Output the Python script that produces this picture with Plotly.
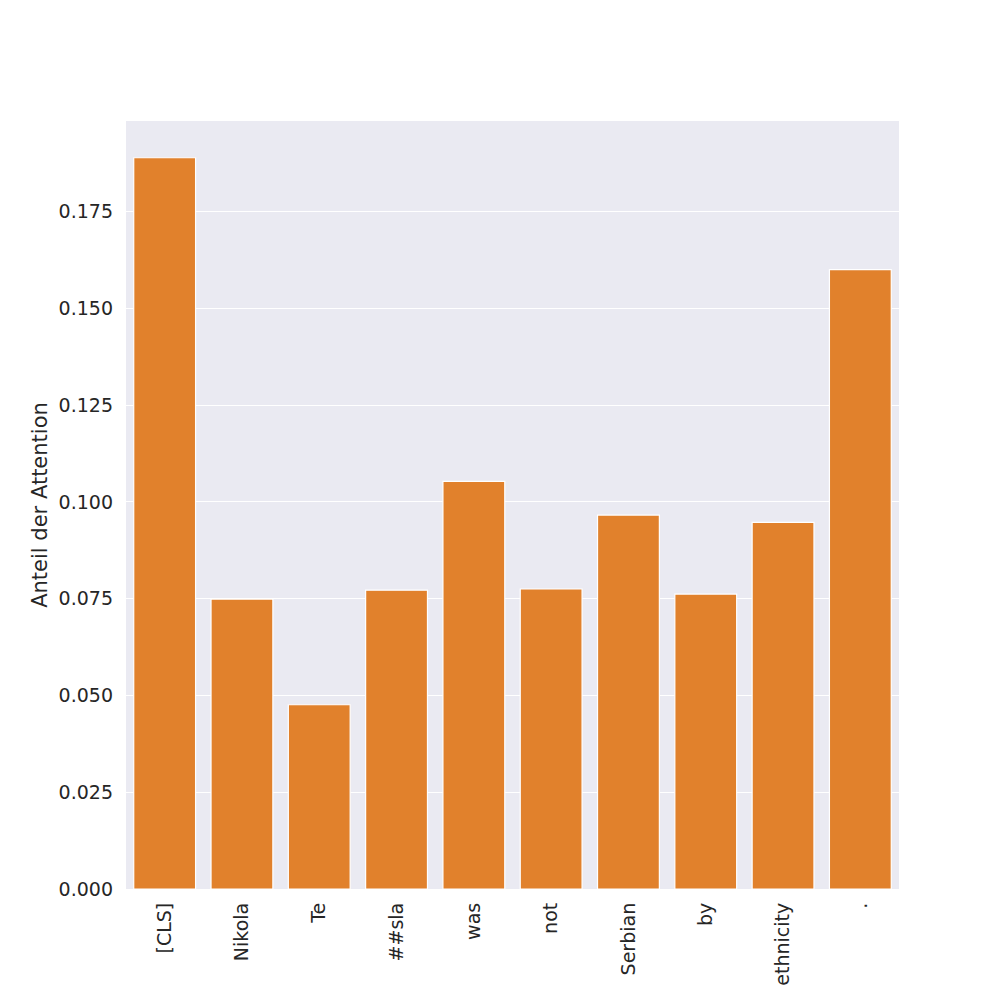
import plotly.graph_objects as go

# Tokens and their attention share
tokens = ['[CLS]', 'Nikola', 'Te', '##sla', 'was', 'not', 'Serbian', 'by', 'ethnicity', '.']
attention = [0.1889, 0.0749, 0.0476, 0.0772, 0.1053, 0.0775, 0.0966, 0.0762, 0.0947, 0.1600]
y_ticks = [0.0, 0.025, 0.05, 0.075, 0.1, 0.125, 0.15, 0.175]

fig = go.Figure(go.Bar(x=tokens, y=attention,
                       marker=dict(color='#E1812C', line=dict(color='white', width=1.2))))

fig.update_layout(width=1000, height=1000,
                  margin=dict(l=118, r=109, t=113, b=119),
                  paper_bgcolor='white', plot_bgcolor='#EAEAF2',
                  bargap=0.2, showlegend=False,
                  font=dict(family='DejaVu Sans', size=19, color='#262626'))
fig.update_xaxes(range=[-0.5, 9.5], tickangle=-90, showgrid=False,
                 ticks='', ticklen=0, tickfont=dict(size=19), ticklabelstandoff=9)
fig.update_yaxes(range=[0, 0.1984], tickvals=y_ticks, tickformat='.3f',
                 gridcolor='white', gridwidth=1.2, zeroline=False,
                 ticks='', tickfont=dict(size=19), ticklabelstandoff=12,
                 title=dict(text='Anteil der Attention', font=dict(size=21), standoff=5))

fig.write_html("out.html")
